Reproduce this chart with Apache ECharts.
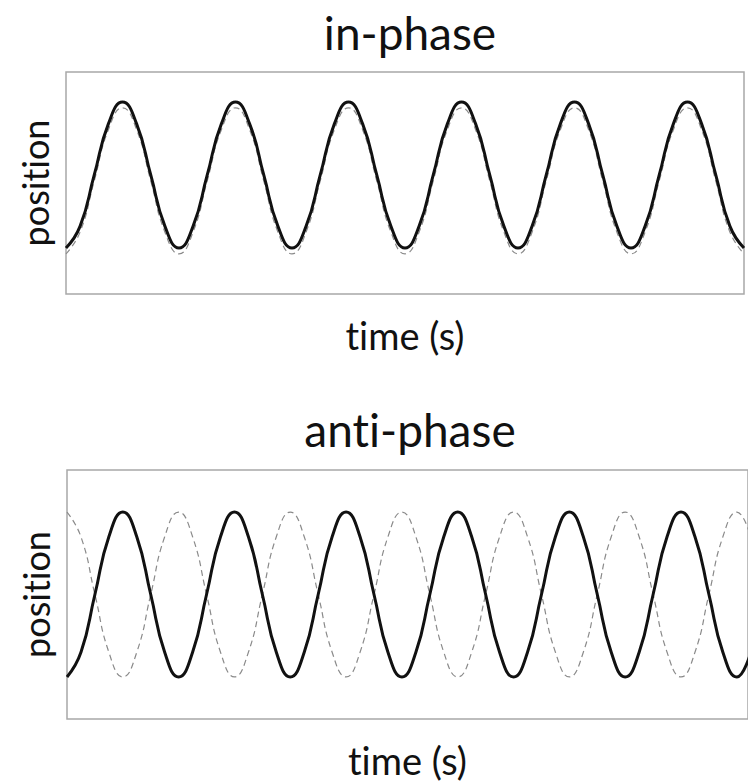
<!DOCTYPE html>
<html>
<head>
<meta charset="utf-8">
<script src="https://cdn.jsdelivr.net/npm/echarts@6/dist/echarts.min.js"></script>
<style>
  html, body { margin: 0; padding: 0; background: #fff; }
  #main { width: 748px; height: 783px; }
  /* no "ti" ligature, the source font draws plain letters */
  #main text { font-variant-ligatures: none; font-feature-settings: "liga" 0, "clig" 0; }
</style>
</head>
<body>
<div id="main"></div>
<script>
// time in periods, sampled every 1/8 period
var timeTop = [0, 0.125, 0.25, 0.375, 0.5, 0.625, 0.75, 0.875,
  1, 1.125, 1.25, 1.375, 1.5, 1.625, 1.75, 1.875,
  2, 2.125, 2.25, 2.375, 2.5, 2.625, 2.75, 2.875,
  3, 3.125, 3.25, 3.375, 3.5, 3.625, 3.75, 3.875,
  4, 4.125, 4.25, 4.375, 4.5, 4.625, 4.75, 4.875,
  5, 5.125, 5.25, 5.375, 5.5, 5.625, 5.75, 5.875, 6];
var inPhaseSolid = [0, 0.15, 0.5, 0.85, 1, 0.85, 0.5, 0.15,
  0, 0.15, 0.5, 0.85, 1, 0.85, 0.5, 0.15,
  0, 0.15, 0.5, 0.85, 1, 0.85, 0.5, 0.15,
  0, 0.15, 0.5, 0.85, 1, 0.85, 0.5, 0.15,
  0, 0.15, 0.5, 0.85, 1, 0.85, 0.5, 0.15,
  0, 0.15, 0.5, 0.85, 1, 0.85, 0.5, 0.15, 0];
var inPhaseDashed = [-0.04, 0.11, 0.46, 0.81, 0.96, 0.81, 0.46, 0.11,
  -0.04, 0.11, 0.46, 0.81, 0.96, 0.81, 0.46, 0.11,
  -0.04, 0.11, 0.46, 0.81, 0.96, 0.81, 0.46, 0.11,
  -0.04, 0.11, 0.46, 0.81, 0.96, 0.81, 0.46, 0.11,
  -0.04, 0.11, 0.46, 0.81, 0.96, 0.81, 0.46, 0.11,
  -0.04, 0.11, 0.46, 0.81, 0.96, 0.81, 0.46, 0.11, -0.04];

var timeBottom = [0, 0.125, 0.25, 0.375, 0.5, 0.625, 0.75, 0.875,
  1, 1.125, 1.25, 1.375, 1.5, 1.625, 1.75, 1.875,
  2, 2.125, 2.25, 2.375, 2.5, 2.625, 2.75, 2.875,
  3, 3.125, 3.25, 3.375, 3.5, 3.625, 3.75, 3.875,
  4, 4.125, 4.25, 4.375, 4.5, 4.625, 4.75, 4.875,
  5, 5.125, 5.25, 5.375, 5.5, 5.625, 5.75, 5.875, 6, 6.125];
var antiPhaseSolid = [0, 0.15, 0.5, 0.85, 1, 0.85, 0.5, 0.15,
  0, 0.15, 0.5, 0.85, 1, 0.85, 0.5, 0.15,
  0, 0.15, 0.5, 0.85, 1, 0.85, 0.5, 0.15,
  0, 0.15, 0.5, 0.85, 1, 0.85, 0.5, 0.15,
  0, 0.15, 0.5, 0.85, 1, 0.85, 0.5, 0.15,
  0, 0.15, 0.5, 0.85, 1, 0.85, 0.5, 0.15, 0, 0.15];
var antiPhaseDashed = [1, 0.85, 0.5, 0.15, 0, 0.15, 0.5, 0.85,
  1, 0.85, 0.5, 0.15, 0, 0.15, 0.5, 0.85,
  1, 0.85, 0.5, 0.15, 0, 0.15, 0.5, 0.85,
  1, 0.85, 0.5, 0.15, 0, 0.15, 0.5, 0.85,
  1, 0.85, 0.5, 0.15, 0, 0.15, 0.5, 0.85,
  1, 0.85, 0.5, 0.15, 0, 0.15, 0.5, 0.85, 1, 0.85];

function pairs(xs, ys) {
  return xs.map(function (x, i) { return [x, ys[i]]; });
}

var font = 'Lato, "Open Sans", sans-serif';
var chart = echarts.init(document.getElementById('main'), null, { renderer: 'svg' });

function xAx(gi, max) {
  return {
    type: 'value', gridIndex: gi, min: 0, max: max,
    name: 'time (s)', nameLocation: 'middle', nameGap: 22,
    nameTextStyle: { fontFamily: font, fontSize: 38, color: '#111' },
    axisLine: { show: false }, axisTick: { show: false },
    axisLabel: { show: false }, splitLine: { show: false }
  };
}
function yAx(gi, min, max) {
  return {
    type: 'value', gridIndex: gi, min: min, max: max,
    name: 'position', nameLocation: 'middle', nameGap: 13,
    nameTextStyle: { fontFamily: font, fontSize: 36, color: '#111' },
    axisLine: { show: false }, axisTick: { show: false },
    axisLabel: { show: false }, splitLine: { show: false }
  };
}
function solid(gi, data) {
  return {
    type: 'line', xAxisIndex: gi, yAxisIndex: gi, data: data,
    smooth: true, symbol: 'none',
    lineStyle: { color: '#111', width: 3 }
  };
}
function dashed(gi, data) {
  return {
    type: 'line', xAxisIndex: gi, yAxisIndex: gi, data: data,
    smooth: true, symbol: 'none', z: 1,
    lineStyle: { color: '#8a8a8a', width: 1.2, type: [6, 4] }
  };
}

chart.setOption({
  animation: false,
  title: [
    { text: 'in-phase', left: 405, top: 4, textAlign: 'center',
      textStyle: { fontFamily: font, fontSize: 46, fontWeight: 'normal', color: '#111' } },
    { text: 'anti-phase', left: 405, top: 401, textAlign: 'center',
      textStyle: { fontFamily: font, fontSize: 46, fontWeight: 'normal', color: '#111' } }
  ],
  grid: [
    { left: 66, top: 72, width: 678, height: 222, show: true,
      borderColor: '#a8a8a8', borderWidth: 1.5 },
    { left: 67, top: 470, width: 692, height: 249, show: true,
      borderColor: '#a8a8a8', borderWidth: 1.5 }
  ],
  xAxis: [xAx(0, 6), xAx(1, 6.1)],
  yAxis: [yAx(0, -0.315, 1.205), yAx(1, -0.255, 1.255)],
  series: [
    dashed(0, pairs(timeTop, inPhaseDashed)),
    solid(0, pairs(timeTop, inPhaseSolid)),
    dashed(1, pairs(timeBottom, antiPhaseDashed)),
    solid(1, pairs(timeBottom, antiPhaseSolid))
  ]
});
</script>
</body>
</html>
